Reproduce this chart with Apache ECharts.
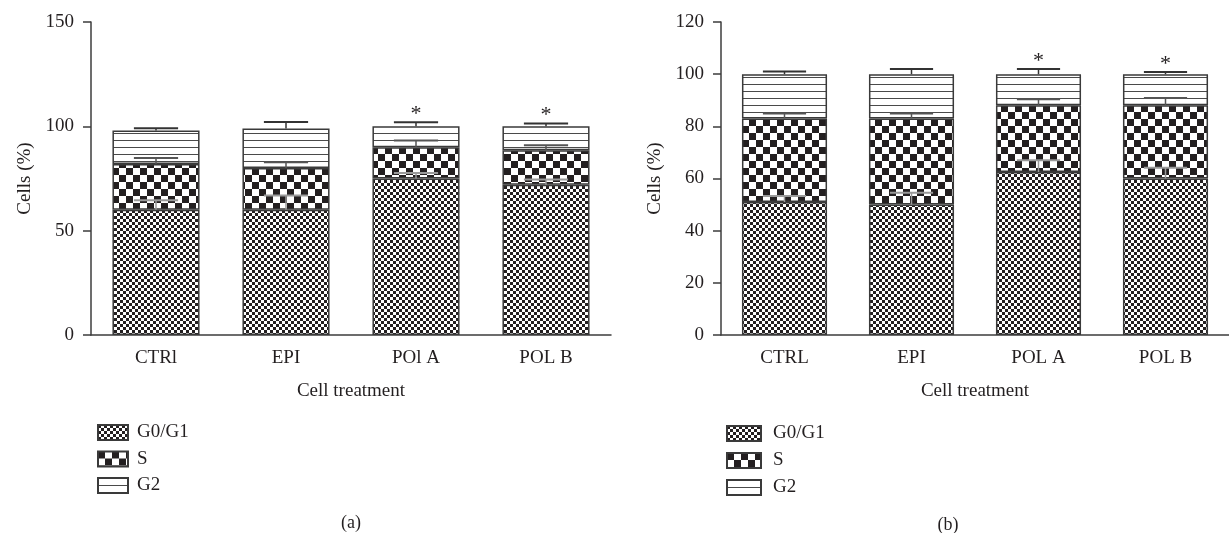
<!DOCTYPE html>
<html>
<head>
<meta charset="utf-8">
<script src="https://cdn.jsdelivr.net/npm/echarts@6/dist/echarts.min.js"></script>
<style>html,body{margin:0;padding:0;background:#fff}#c{width:1229px;height:533px}</style>
</head>
<body>
<div id="c"></div>
<script>
// ---- data ----
const categoriesA = ['CTRl', 'EPI', 'POl A', 'POL B'];
const categoriesB = ['CTRL', 'EPI', 'POL A', 'POL B'];
const seriesNames = ['G0/G1', 'S', 'G2'];
const yTicksA = [0, 50, 100, 150];
const yTicksB = [0, 20, 40, 60, 80, 100, 120];

const g0A = [60, 60, 75, 72];
const sA = [22, 20, 15, 16.5];
const g2A = [16, 19, 10, 11.5];
const g0ErrA = [4.6, 6.8, 2.6, 2.5];
const sErrA = [2.8, 2.8, 3.2, 2.4];
const g2ErrA = [1.1, 3.1, 2.0, 1.3];
const sigA = ['', '', '*', '*'];

const g0B = [51, 50, 62.5, 60];
const sB = [32, 33, 25.6, 28.1];
const g2B = [17, 17, 11.9, 11.9];
const g0ErrB = [2.3, 4.5, 4.5, 4.1];
const sErrB = [1.9, 1.9, 2.3, 2.8];
const g2ErrB = [1.0, 2.0, 2.0, 0.8];
const sigB = ['', '', '*', '*'];

// ---- patterns ----
const INK = '#231f20';
function makeCanvas(w, h, draw) {
  const c = document.createElement('canvas');
  c.width = w; c.height = h;
  const ctx = c.getContext('2d');
  ctx.fillStyle = '#ffffff'; ctx.fillRect(0, 0, w, h);
  draw(ctx);
  return c;
}
const patG0 = makeCanvas(6, 6, ctx => { ctx.fillStyle = INK; ctx.fillRect(0, 0, 3, 3); ctx.fillRect(3, 3, 3, 3); });
const patS = makeCanvas(14, 14, ctx => { ctx.fillStyle = INK; ctx.fillRect(0, 0, 7, 7); ctx.fillRect(7, 7, 7, 7); });
const patG2 = makeCanvas(8, 7, ctx => { ctx.fillStyle = '#4a4a4a'; ctx.fillRect(0, 0, 8, 1); });
const patterns = [patG0, patS, patG2];

const FONT = 'Liberation Serif';
const AXIS_COLOR = '#3d3d3d';

function cumulative(arrs) {
  const out = []; let acc = arrs[0].map(() => 0);
  arrs.forEach(a => { acc = acc.map((v, i) => v + a[i]); out.push(acc.slice()); });
  return out;
}

function errRender(color, lw) {
  return function (params, api) {
    const x = api.value(0);
    const p0 = api.coord([x, api.value(1)]);
    const p1 = api.coord([x, api.value(2)]);
    const half = api.size([1, 0])[0] * 0.17;
    return {
      type: 'group', children: [
        { type: 'line', shape: { x1: p0[0], y1: p0[1], x2: p1[0], y2: p1[1] }, style: { stroke: color, lineWidth: lw } },
        { type: 'line', shape: { x1: p1[0] - half, y1: p1[1], x2: p1[0] + half, y2: p1[1] }, style: { stroke: color, lineWidth: 2 } }
      ]
    };
  };
}
function starRender(params, api) {
  const p = api.coord([api.value(0), api.value(1)]);
  return { type: 'text', x: p[0], y: p[1] - 8, style: { text: '*', fontSize: 22, fontFamily: FONT, fill: INK, align: 'center', verticalAlign: 'middle' } };
}

function buildSeries(idx, segs, errs, sig) {
  const tops = cumulative(segs);
  const out = [];
  segs.forEach((vals, k) => {
    out.push({
      name: seriesNames[k], type: 'bar', stack: 'st' + idx, xAxisIndex: idx, yAxisIndex: idx,
      barWidth: '67%', data: vals,
      itemStyle: { color: { image: patterns[k], repeat: 'repeat' }, borderColor: '#3a3a3a', borderWidth: 1.5 },
      emphasis: { disabled: true }
    });
  });
  const errColors = ['#9a9a9a', '#555555', '#333333'];
  errs.forEach((e, k) => {
    out.push({
      type: 'custom', xAxisIndex: idx, yAxisIndex: idx, z: 5, silent: true,
      renderItem: errRender(errColors[k], 1.5),
      data: e.map((v, i) => [i, tops[k][i], tops[k][i] + v])
    });
  });
  out.push({
    type: 'custom', xAxisIndex: idx, yAxisIndex: idx, z: 6, silent: true,
    renderItem: starRender,
    data: sig.map((s, i) => s ? [i, tops[2][i] + errs[2][i]] : null).filter(d => d)
  });
  return out;
}

const textStyle = { fontFamily: FONT, fontSize: 19, color: INK };

function xAxis(idx, cats) {
  return {
    type: 'category', gridIndex: idx, data: cats,
    name: 'Cell treatment', nameLocation: 'middle', nameGap: 47,
    nameTextStyle: textStyle,
    axisLine: { lineStyle: { color: AXIS_COLOR, width: 1.5 } },
    axisTick: { alignWithLabel: true, length: 8, lineStyle: { color: AXIS_COLOR, width: 1.5 } },
    axisLabel: Object.assign({ margin: 14 }, textStyle)
  };
}
function yAxis(idx, ticks) {
  return {
    type: 'value', gridIndex: idx, min: ticks[0], max: ticks[ticks.length - 1], interval: ticks[1] - ticks[0],
    name: 'Cells (%)', nameLocation: 'middle', nameGap: 56, nameRotate: 90,
    nameTextStyle: textStyle,
    splitLine: { show: false },
    axisLine: { show: true, lineStyle: { color: AXIS_COLOR, width: 1.5 } },
    axisTick: { show: true, length: 8, lineStyle: { color: AXIS_COLOR, width: 1.5 } },
    axisLabel: Object.assign({ margin: 17 }, textStyle)
  };
}

const chart = echarts.init(document.getElementById('c'), null, { renderer: 'canvas' });
chart.setOption({
  animation: false,
  backgroundColor: '#ffffff',
  grid: [
    { left: 91, top: 22, width: 520, height: 313 },
    { left: 721, top: 22, width: 520, height: 313 }
  ],
  xAxis: [xAxis(0, categoriesA), xAxis(1, categoriesB)],
  yAxis: [yAxis(0, yTicksA), yAxis(1, yTicksB)],
  legend: [
    { data: seriesNames, orient: 'vertical', left: 92, top: 418, itemWidth: 30, itemHeight: 15, itemGap: 7.5,
      icon: 'rect', textStyle: Object.assign({ lineHeight: 19, padding: [0, 0, 0, 4] }, textStyle), selectedMode: false },
    { data: seriesNames, orient: 'vertical', left: 721, top: 419, itemWidth: 34, itemHeight: 15, itemGap: 8,
      icon: 'rect', textStyle: Object.assign({ lineHeight: 19, padding: [0, 0, 0, 7] }, textStyle), selectedMode: false }
  ],
  graphic: [
    { type: 'text', x: 351, y: 523, style: { text: '(a)', fontFamily: FONT, fontSize: 18, fill: INK, align: 'center', verticalAlign: 'middle' } },
    { type: 'text', x: 948, y: 525, style: { text: '(b)', fontFamily: FONT, fontSize: 18, fill: INK, align: 'center', verticalAlign: 'middle' } }
  ],
  series: [].concat(
    buildSeries(0, [g0A, sA, g2A], [g0ErrA, sErrA, g2ErrA], sigA),
    buildSeries(1, [g0B, sB, g2B], [g0ErrB, sErrB, g2ErrB], sigB)
  )
});
</script>
</body>
</html>
